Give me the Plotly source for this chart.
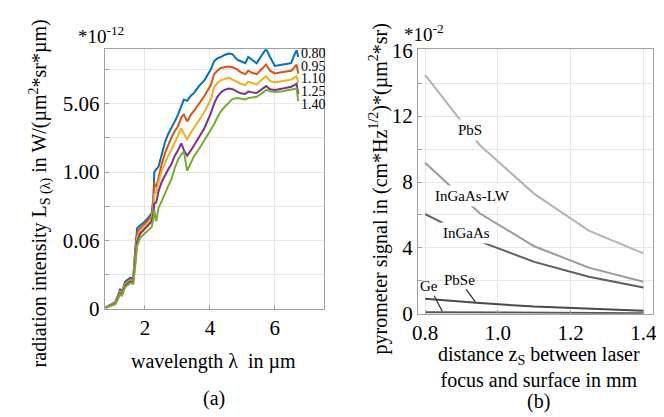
import plotly.graph_objects as go

# ---------------- data : panel (a) ----------------
# wavelength in µm
wavelength = [0.79, 1.0, 1.09, 1.18, 1.24, 1.29, 1.39, 1.55, 1.64, 1.7, 1.76, 1.85, 2.0, 2.11, 2.21,
              2.26, 2.29, 2.35, 2.42, 2.52, 2.62, 2.72, 2.82, 2.92, 3.02, 3.12, 3.2, 3.3, 3.42, 3.52,
              3.67, 3.83, 4.03, 4.13, 4.23, 4.33, 4.45, 4.58, 4.7, 4.84, 4.94, 5.09, 5.18, 5.3, 5.44,
              5.6, 5.73, 5.85, 6.0, 6.25, 6.5, 6.6, 6.67, 6.72]
# radiation intensity, shown on the chart's fourth-root axis (values = (L/1e-12)**0.25)
zs_labels = ["0.80", "0.95", "1.10", "1.25", "1.40"]
L_080 = [0.01, 0.035, 0.05, 0.105, 0.147, 0.117, 0.20, 0.23, 0.22, 0.43, 0.59, 0.61, 0.64, 0.67, 0.70,
         0.81, 1.0, 1.02, 1.04, 1.13, 1.22, 1.28, 1.32, 1.37, 1.42, 1.48, 1.53, 1.52, 1.56, 1.58,
         1.63, 1.67, 1.75, 1.81, 1.83, 1.84, 1.855, 1.865, 1.86, 1.82, 1.81, 1.795, 1.84, 1.82, 1.795,
         1.855, 1.90, 1.84, 1.775, 1.785, 1.795, 1.855, 1.89, 1.84]
L_095 = [0.01, 0.032, 0.046, 0.097, 0.137, 0.11, 0.188, 0.217, 0.21, 0.40, 0.555, 0.59, 0.625, 0.65, 0.675,
         0.78, 0.92, 0.89, 0.97, 1.06, 1.14, 1.20, 1.255, 1.30, 1.335, 1.40, 1.42, 1.37, 1.42, 1.45,
         1.50, 1.555, 1.635, 1.715, 1.74, 1.76, 1.765, 1.77, 1.765, 1.75, 1.73, 1.715, 1.74, 1.725, 1.715,
         1.75, 1.785, 1.74, 1.72, 1.73, 1.74, 1.765, 1.785, 1.72]
L_110 = [0.01, 0.03, 0.043, 0.09, 0.128, 0.105, 0.178, 0.207, 0.2, 0.37, 0.52, 0.57, 0.61, 0.635, 0.66,
         0.74, 0.84, 0.85, 0.93, 1.01, 1.07, 1.12, 1.165, 1.22, 1.27, 1.32, 1.28, 1.24, 1.29, 1.33,
         1.38, 1.44, 1.53, 1.62, 1.65, 1.67, 1.68, 1.69, 1.675, 1.66, 1.645, 1.635, 1.66, 1.65, 1.64,
         1.675, 1.70, 1.665, 1.655, 1.665, 1.675, 1.69, 1.70, 1.655]
L_125 = [0.01, 0.028, 0.04, 0.085, 0.12, 0.1, 0.17, 0.2, 0.195, 0.34, 0.49, 0.55, 0.59, 0.615, 0.64,
         0.70, 0.77, 0.78, 0.86, 0.93, 0.98, 1.02, 1.06, 1.12, 1.16, 1.21, 1.16, 1.12, 1.16, 1.20,
         1.26, 1.32, 1.43, 1.50, 1.55, 1.58, 1.60, 1.61, 1.605, 1.585, 1.575, 1.57, 1.588, 1.582, 1.577,
         1.605, 1.628, 1.605, 1.60, 1.61, 1.623, 1.635, 1.646, 1.57]
L_140 = [0.01, 0.025, 0.036, 0.078, 0.112, 0.095, 0.16, 0.19, 0.185, 0.31, 0.46, 0.52, 0.555, 0.58, 0.60,
         0.66, 0.72, 0.64, 0.74, 0.79, 0.85, 0.90, 0.95, 1.03, 1.09, 1.13, 1.15, 1.01, 1.07, 1.12,
         1.17, 1.23, 1.31, 1.35, 1.40, 1.44, 1.475, 1.51, 1.535, 1.54, 1.535, 1.53, 1.54, 1.545, 1.55,
         1.575, 1.60, 1.59, 1.585, 1.59, 1.60, 1.605, 1.61, 1.517]
a_ytickvals = [0, 0.25, 0.5, 0.75, 1.0, 1.25, 1.5, 1.75]
a_yticktext = ["0", "", "0.06", "", "1.00", "", "5.06", ""]
a_xtickvals = [2, 4, 6]

# ---------------- data : panel (b) ----------------
distance = [0.8, 0.95, 1.1, 1.25, 1.4]
sig_PbS = [14.5, 10.25, 7.28, 5.05, 3.67]
sig_InGaAsLW = [9.17, 6.1, 4.1, 2.8, 1.95]
sig_InGaAs = [6.05, 4.4, 3.15, 2.25, 1.6]
sig_PbSe = [0.92, 0.65, 0.44, 0.30, 0.19]
sig_Ge = [0.10, 0.08, 0.06, 0.05, 0.04]
b_xtickvals = [0.8, 1.0, 1.2, 1.4]
b_xticktext = ["0.8", "1.0", "1.2", "1.4"]
b_ytickvals = [0, 2, 4, 6, 8, 10, 12, 14, 16]
b_yticktext = ["0", "", "4", "", "8", "", "12", "", "16"]

FONT = "Liberation Serif"
W, H = 664, 417

def px(x):
    return x / W

def py(y):
    return 1 - y / H

fig = go.Figure()

a_series = [L_080, L_095, L_110, L_125, L_140]
a_colors = ["#0072BD", "#D95319", "#EDB120", "#7E2F8E", "#77AC30"]
for vals, col, name in zip(a_series, a_colors, zs_labels):
    fig.add_trace(go.Scatter(x=wavelength, y=vals, mode="lines", name=name,
                             line=dict(color=col, width=2), xaxis="x", yaxis="y",
                             showlegend=False))

b_series = [("PbS", sig_PbS, "#b3b3b3"), ("InGaAs-LW", sig_InGaAsLW, "#9a9a9a"),
            ("InGaAs", sig_InGaAs, "#5e5e5e"), ("PbSe", sig_PbSe, "#4a4a4a"),
            ("Ge", sig_Ge, "#555555")]
for name, vals, col in b_series:
    fig.add_trace(go.Scatter(x=distance, y=vals, mode="lines", name=name,
                             line=dict(color=col, width=2), xaxis="x2", yaxis="y2",
                             showlegend=False))

axis_common = dict(showline=True, mirror=True, linecolor="#a0a0a0", linewidth=1,
                   showgrid=True, gridcolor="#e6e6e6", gridwidth=1, zeroline=False,
                   ticks="inside", ticklen=4, tickcolor="#a0a0a0",
                   tickfont=dict(family=FONT, size=21, color="black"))

fig.update_layout(
    width=W, height=H, margin=dict(l=0, r=0, t=0, b=0),
    paper_bgcolor="white", plot_bgcolor="white",
    font=dict(family=FONT, color="black"),
    xaxis=dict(domain=[px(92), px(315)], range=[0.76, 7.52], tickvals=a_xtickvals,
               anchor="y", **axis_common),
    yaxis=dict(domain=[py(307), py(32)], range=[0, 1.897], tickvals=a_ytickvals,
               ticktext=a_yticktext, anchor="x", **axis_common),
    xaxis2=dict(domain=[px(410), px(649)], range=[0.78, 1.427], tickvals=b_xtickvals,
                ticktext=b_xticktext, anchor="y2", **axis_common),
    yaxis2=dict(domain=[py(312), py(32)], range=[0, 16.06], tickvals=b_ytickvals,
                ticktext=b_yticktext, anchor="x2", **axis_common),
)

ann = []
def text(x, y, t, size=20, angle=0, xanchor="center", **kw):
    ann.append(dict(x=px(x), y=py(y), xref="paper", yref="paper", text=t, showarrow=False,
                    textangle=angle, xanchor=xanchor, yanchor="middle",
                    font=dict(family=FONT, size=size, color="black"), **kw))

# panel (a) texts
text(27, 185, "radiation intensity L<sub>S (λ)</sub> in W/(µm<sup>2</sup>*sr*µm)", size=20, angle=-90)
text(203, 362, "wavelength λ  in µm", size=20)
text(203, 402, "(a)", size=20)
text(88, 17, "*10<sup>-12</sup>", size=19)
label_y = [37, 50, 63, 77, 90]
for lab, yy in zip(zs_labels, label_y):
    text(289, yy, lab, size=14, xanchor="left")

# panel (b) texts
text(370, 180, "pyrometer signal in (cm*Hz<sup>1/2</sup>)*(µm<sup>2</sup>*sr)", size=20, angle=-90)
text(533, 368, "distance z<sub>S</sub> between laser<br>focus and surface in mm", size=20)
text(533, 405, "(b)", size=20)
text(416, 15, "*10<sup>-2</sup>", size=19)
text(463, 117, "PbS", size=15, bgcolor="white", borderpad=2)
text(466, 187, "InGaAs-LW", size=15, bgcolor="white", borderpad=2)
text(459, 227, "InGaAs", size=15, bgcolor="white", borderpad=2)

# pointer labels (arrow tips on the curves, in data coordinates)
ann.append(dict(x=0.938, y=sig_PbSe[0] - 0.2, xref="x2", yref="y2", text="PbSe",
                showarrow=True, arrowhead=0, arrowwidth=1.3, arrowcolor="#333333",
                ax=-16, ay=-22, font=dict(family=FONT, size=15, color="black")))
ann.append(dict(x=0.847, y=sig_Ge[0] + 0.05, xref="x2", yref="y2", text="Ge",
                showarrow=True, arrowhead=0, arrowwidth=1.3, arrowcolor="#333333",
                ax=-13, ay=-25, font=dict(family=FONT, size=15, color="black")))

fig.update_layout(annotations=ann)
fig.write_html("out.html")
